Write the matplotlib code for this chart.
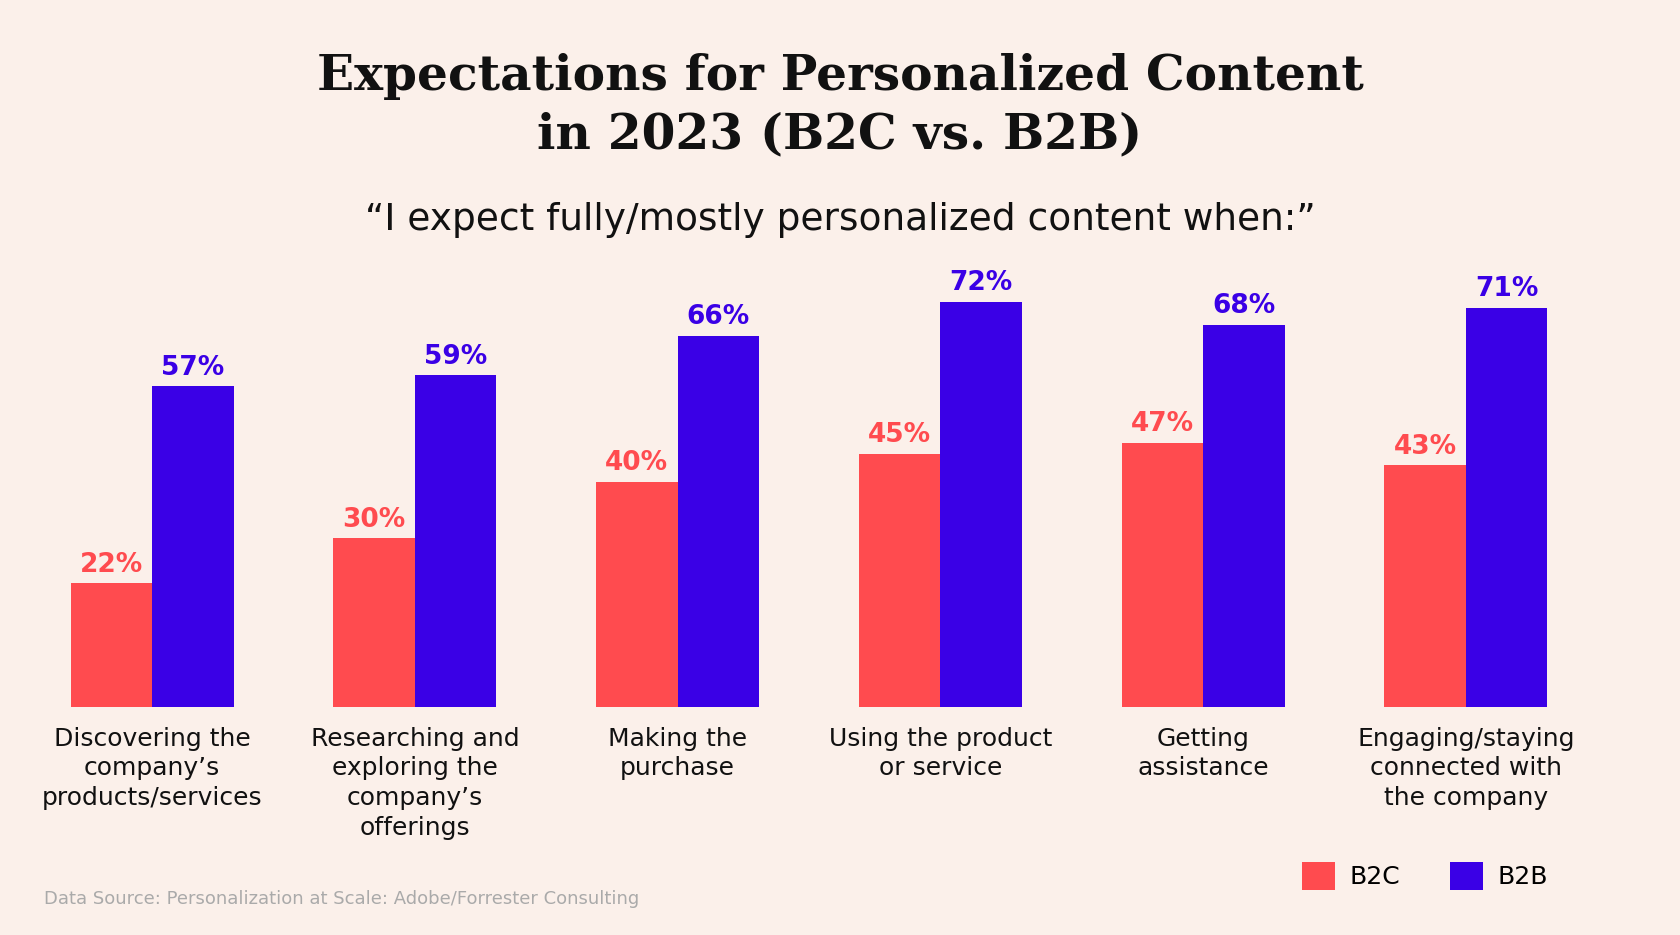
import matplotlib
matplotlib.use("Agg")
import matplotlib.pyplot as plt
import numpy as np

categories = ["Discovering the\ncompany’s\nproducts/services",
              "Researching and\nexploring the\ncompany’s\nofferings",
              "Making the\npurchase",
              "Using the product\nor service",
              "Getting\nassistance",
              "Engaging/staying\nconnected with\nthe company"]
b2c = [22, 30, 40, 45, 47, 43]
b2b = [57, 59, 66, 72, 68, 71]
series_names = ["B2C", "B2B"]

bg = "#FBF0EA"
red = "#FF4B4F"
blue = "#3A00E6"

fig = plt.figure(figsize=(16.8, 9.35), dpi=100, facecolor=bg)
ax = fig.add_axes([0.0124, 0.244, 0.9383, 0.481])
ax.set_facecolor(bg)
x = np.arange(len(categories))
w = 0.31
ax.bar(x - w/2, b2c, w, color=red, label=series_names[0])
ax.bar(x + w/2, b2b, w, color=blue, label=series_names[1])
for i in range(len(categories)):
    ax.text(x[i] - w/2, b2c[i] + 1, f"{b2c[i]}%", ha="center", va="bottom",
            color=red, fontsize=19, fontweight="bold", family="DejaVu Sans")
    ax.text(x[i] + w/2, b2b[i] + 1, f"{b2b[i]}%", ha="center", va="bottom",
            color=blue, fontsize=19, fontweight="bold", family="DejaVu Sans")
    ax.text(x[i], -3.5, categories[i], ha="center", va="top", fontsize=18,
            family="DejaVu Sans", color="#111111", linespacing=1.3)
ax.set_xlim(-0.5, 5.5)
ax.set_ylim(0, 80)
ax.axis("off")

fig.text(0.5, 0.887, "Expectations for Personalized Content\nin 2023 (B2C vs. B2B)",
         ha="center", va="center", fontsize=35, fontweight="bold",
         family="DejaVu Serif", color="#111111", linespacing=1.3)
fig.text(0.5, 0.765, "“I expect fully/mostly personalized content when:”",
         ha="center", va="center", fontsize=27, family="DejaVu Sans", color="#111111")
fig.text(0.026, 0.038, "Data Source: Personalization at Scale: Adobe/Forrester Consulting",
         ha="left", va="center", fontsize=13, family="DejaVu Sans", color="#AAAAAA")

fig.legend(loc="center right", bbox_to_anchor=(0.935, 0.063), ncol=2,
           frameon=False, handlelength=1.3, handleheight=1.3,
           columnspacing=2.0, handletextpad=0.6,
           prop={"family": "DejaVu Sans", "size": 18})
fig.savefig("out.png", facecolor=bg)
